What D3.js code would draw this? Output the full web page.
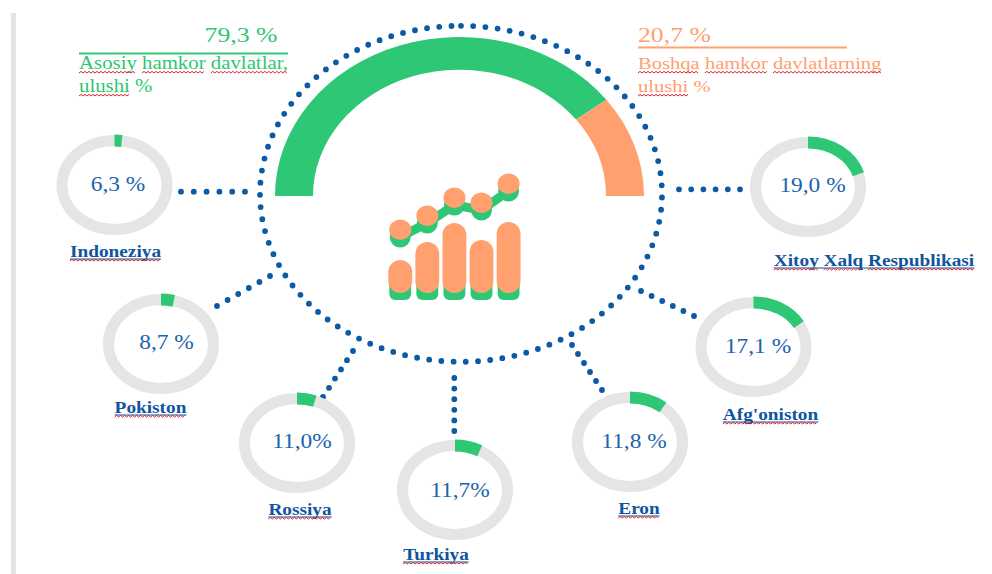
<!DOCTYPE html>
<html><head><meta charset="utf-8">
<script src="https://cdn.jsdelivr.net/npm/d3@7"></script>
<style>html,body{margin:0;padding:0;background:#fff}svg{display:block}text{font-family:"Liberation Serif",serif}</style>
</head><body><svg id="c" width="992" height="574"></svg>
<script>
const countries=["Indoneziya","Pokiston","Rossiya","Turkiya","Eron","Afg'oniston","Xitoy Xalq Respublikasi"];
const valueLabels=["6,3 %","8,7 %","11,0%","11,7%","11,8 %","17,1 %","19,0 %"];
const drawnShare=[2.2,3.9,5.5,7.8,10.8,16.6,20.4];
const ringCx=[114.5,161,297,455,630,753.5,808];
const ringCy=[185,344,443,490,442,347,187];
const labelX=[115.5,150.5,300,436,639,770.5,874];
const labelY=[257,413,515,560,514,420,266];
const valueX=[118,166.5,302,460,634,758,812.5];
const valueY=[191,349,448,497,448,353,192];
const gaugeShares=[79.3,20.7];
const gaugeColors=["#2ec775","#ffa06e"];
const barHeights=[33,51,70,53,71];
const lineValues=[3,17,35,30,49];
const connectors=[[181,191.7,245,191.7],[217,306,270,276],[323,397,353,351],[454.3,378,454.3,431],[602,390,572,345],[694,316,641,291],[679,189.3,740,189.3]];
const blue="#0a5aa5",green="#2ec775",orange="#ffa06e",grey="#e5e5e5",stretch=1.17;
const svg=d3.select("#c");
svg.append("rect").attr("x",11).attr("y",13).attr("width",5).attr("height",561).attr("fill","#e4e4e4");

// gauge
const gx=459.5,gy=196,sy=0.862;
const gaugeA=d3.scaleLinear().domain([0,100]).range([-Math.PI/2,Math.PI/2]);
const garc=d3.arc().innerRadius(146.5).outerRadius(184.5);
const gg=svg.append("g").attr("transform",`translate(${gx},${gy}) scale(1,${sy})`);
let acc=0;
gaugeShares.forEach((v,i)=>{gg.append("path").attr("fill",gaugeColors[i]).attr("d",garc({startAngle:gaugeA(acc),endAngle:gaugeA(acc+v)}));acc+=v;});

// dotted ellipse, starting at the top like the reference
const ex=461,ey=193.8,erx=201,ery=168;
svg.append("path").attr("d",`M${ex},${ey-ery}A${erx},${ery} 0 1 1 ${ex},${ey+ery}A${erx},${ery} 0 1 1 ${ex},${ey-ery}`)
 .attr("fill","none").attr("stroke",blue).attr("stroke-width",5.8).attr("stroke-linecap","round").attr("stroke-dasharray","0 12.25");

// connectors
svg.append("g").selectAll("line").data(connectors).join("line")
 .attr("x1",d=>d[0]).attr("y1",d=>d[1]).attr("x2",d=>d[2]).attr("y2",d=>d[3])
 .attr("stroke",blue).attr("stroke-width",5.8).attr("stroke-linecap","round")
 .attr("stroke-dasharray",d=>`0 ${Math.hypot(d[2]-d[0],d[3]-d[1])/5-0.001}`);

// rings
const share=d3.scaleLinear().domain([0,100]).range([0,2*Math.PI]);
const ringR=44.5;
countries.forEach((c,i)=>{
 const g=svg.append("g").attr("transform",`translate(${ringCx[i]},${ringCy[i]}) scale(1.18,1)`);
 const full=d3.path();full.arc(0,0,ringR,0,2*Math.PI);
 g.append("path").attr("d",full.toString()).attr("fill","none").attr("stroke",grey).attr("stroke-width",11).attr("vector-effect","non-scaling-stroke");
 const part=d3.path();part.arc(0,0,ringR,-Math.PI/2,-Math.PI/2+share(drawnShare[i]));
 g.append("path").attr("d",part.toString()).attr("fill","none").attr("stroke",green).attr("stroke-width",12).attr("vector-effect","non-scaling-stroke");
 stretched(valueLabels[i],valueX[i],valueY[i],{anchor:"middle",size:20,fill:"#1a63ad"});
});

function stretched(t,x,y,o){
 return svg.append("text").attr("transform",`translate(${x},${y}) scale(${stretch},1)`)
  .attr("text-anchor",o.anchor||"start").attr("font-size",o.size).attr("font-weight",o.weight||400).attr("fill",o.fill).text(t);
}
function squiggle(x0,x1,y){
 let d=`M${x0},${y}`;let up=true;
 for(let x=x0+2;x<=x1;x+=2){d+=`L${x},${y+(up?-1.6:0)}`;up=!up;}
 return d;
}
function label(t,x,y,o){
 const n=stretched(t,x,y,o),node=n.node();
 const w=node.getComputedTextLength()*stretch;
 const left=o.anchor==="middle"?x-w/2:x;
 if(o.under) svg.append("line").attr("x1",left).attr("x2",left+w).attr("y1",y+2).attr("y2",y+2).attr("stroke",o.fill).attr("stroke-width",1);
 let pos=0;
 t.split(" ").forEach(word=>{
  const a=left+node.getSubStringLength(0,pos)*stretch;
  const b=left+node.getSubStringLength(0,pos+word.length)*stretch;
  if(word!=="%") svg.append("path").attr("d",squiggle(a,b,y+4)).attr("fill","none").attr("stroke","#e0202a").attr("stroke-width",1);
  pos+=word.length+1;
 });
}
countries.forEach((c,i)=>label(c,labelX[i],labelY[i],{anchor:"middle",size:16.5,weight:700,fill:"#0f559e",under:true}));

// headers
stretched("79,3 %",241,42,{anchor:"middle",size:22,fill:green});
svg.append("line").attr("x1",79).attr("x2",288).attr("y1",53.5).attr("y2",53.5).attr("stroke",green).attr("stroke-width",2);
label("Asosiy hamkor davlatlar,",79,69,{size:17.8,fill:green});
label("ulushi %",79,92,{size:17.8,fill:green});
stretched("20,7 %",638,42,{size:22,fill:orange});
svg.append("line").attr("x1",638).attr("x2",847).attr("y1",47.5).attr("y2",47.5).attr("stroke",orange).attr("stroke-width",2);
label("Boshqa hamkor davlatlarning",638,69,{size:17.6,fill:orange});
label("ulushi %",638,92,{size:17.6,fill:orange});

// icon
const ix=d3.scaleBand().domain(d3.range(5)).range([388.3,520.5]).paddingInner(0.12).paddingOuter(0);
const iy=d3.scaleLinear().domain([0,70]).range([293,223]);
const lx=i=>ix(i)+ix.bandwidth()/2;
const ly=d3.scaleLinear().domain([0,60]).range([240,180]);
const ic=svg.append("g");
barHeights.forEach((h,i)=>{
 ic.append("rect").attr("x",ix(i)+1).attr("width",ix.bandwidth()-2).attr("y",277).attr("height",23).attr("rx",6).attr("fill",green);
 ic.append("rect").attr("x",ix(i)).attr("width",ix.bandwidth()).attr("y",iy(h)).attr("height",293-iy(h)).attr("rx",12).attr("fill",orange);
});
const line=d3.line().x((d,i)=>lx(i)).y(d=>ly(d));
ic.append("path").attr("d",line(lineValues)).attr("fill","none").attr("stroke",green).attr("stroke-width",9);
lineValues.forEach((v,i)=>{
 ic.append("circle").attr("cx",lx(i)).attr("cy",ly(v)).attr("r",10.5).attr("fill",green);
 ic.append("ellipse").attr("cx",lx(i)).attr("cy",ly(v)-7.3).attr("rx",11).attr("ry",10.3).attr("fill",orange);
});
</script></body></html>
